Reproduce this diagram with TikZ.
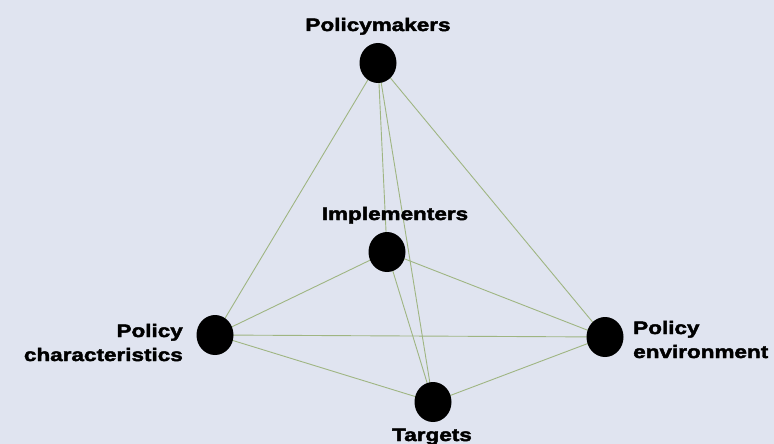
\documentclass[tikz,border=0pt]{standalone}
\usepackage{fontspec}
\setmainfont{Liberation Sans}[FakeStretch=1.25,FakeBold=2.5]
\begin{document}
\begin{tikzpicture}[x=1pt,y=-1pt,
  dot/.style={ellipse,fill=black,minimum width=37pt,minimum height=40pt,inner sep=0pt},
  conn/.style={draw=linegreen,line width=0.9pt},
  lbl/.style={font=\bfseries\fontsize{18}{24}\selectfont,inner sep=0pt}]
\usetikzlibrary{shapes.geometric}
\definecolor{bg}{HTML}{E0E4F0}
\definecolor{linegreen}{HTML}{9FB582}
\fill[bg] (0,0) rectangle (774,444);
\useasboundingbox (0,0) rectangle (774,444);
\coordinate (pm) at (378,63);
\coordinate (im) at (387,252);
\coordinate (pc) at (215,335);
\coordinate (pe) at (605,337);
\coordinate (tg) at (433,402);
\draw[conn] (pm) -- (pc);
\draw[conn] (pm) -- (pe);
\draw[conn] (pm) -- (tg);
\draw[conn] (pm) -- (im);
\draw[conn] (im) -- (tg);
\draw[conn] (im) -- (pc);
\draw[conn] (im) -- (pe);
\draw[conn] (pc) -- (pe);
\draw[conn] (pc) -- (tg);
\draw[conn] (pe) -- (tg);
\node[dot] (npm) at (pm) {};
\node[dot] (nim) at (im) {};
\node[dot] (npc) at (pc) {};
\node[dot] (npe) at (pe) {};
\node[dot] (ntg) at (tg) {};
\node[lbl,anchor=base] (tpm) at (378,31) {Policymakers};
\node[lbl,anchor=base] (tim) at (395,220) {Implementers};
\node[lbl,anchor=base east,align=right] (tpc) at (183,361) {Policy\\characteristics};
\node[lbl,anchor=base west,align=left] (tpe) at (633,358) {Policy\\environment};
\node[lbl,anchor=base] (ttg) at (432,441) {Targets};
\end{tikzpicture}
\end{document}
